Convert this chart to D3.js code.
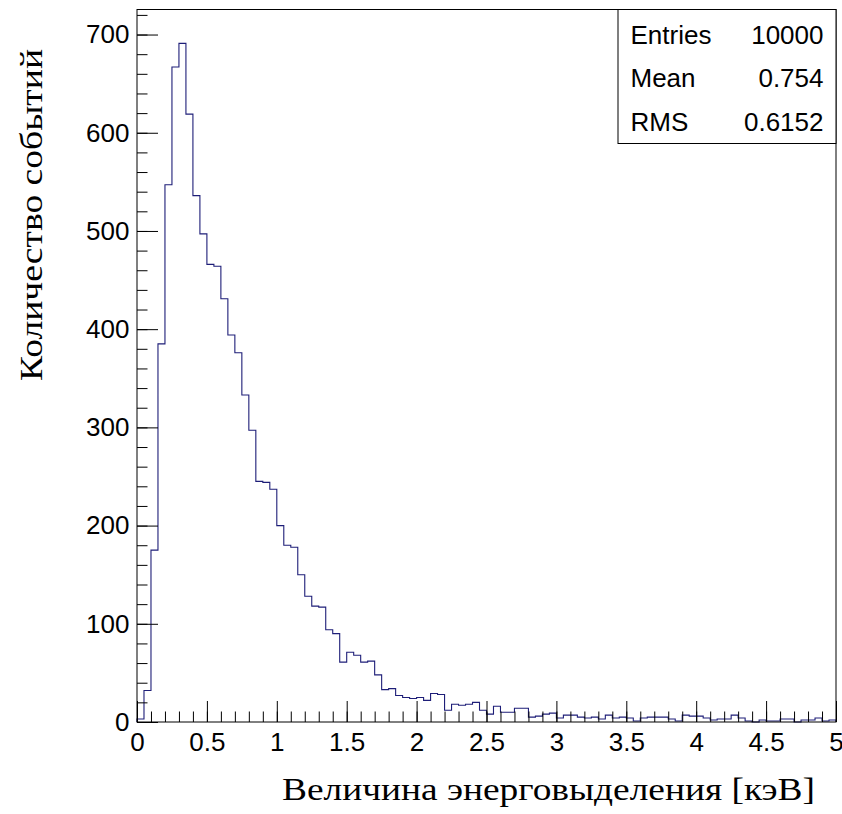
<!DOCTYPE html>
<html>
<head>
<meta charset="utf-8">
<script src="https://cdn.jsdelivr.net/npm/d3@7"></script>
<style>
  body { margin: 0; background: white; }
  .tick text { font-family: "Liberation Sans", Arial, Helvetica, sans-serif; fill: black; }
  .title { font-family: "Liberation Serif", "Times New Roman", serif; fill: black; }
</style>
</head>
<body>
<div id="energy_hist"></div>
<script>
// histogram contents, 100 bins of 0.05 keV from 0 to 5
var binCounts = [
  3, 32, 175, 385, 547, 667, 691, 619, 536, 497,
  466, 464, 431, 394, 376, 333, 297, 245, 244, 237,
  200, 180, 178, 150, 128, 118, 117, 94, 90, 61,
  71, 68, 61, 62, 48, 33, 34, 27, 25, 24,
  25, 22, 29, 28, 12, 18, 17, 18, 20, 12,
  8, 16, 10, 10, 14, 14, 5, 6, 8, 9,
  4, 7, 7, 5, 4, 5, 3, 7, 4, 5,
  4, 1, 4, 5, 5, 5, 3, 1, 7, 6,
  6, 4, 2, 3, 3, 7, 4, 1, 0, 2,
  1, 1, 3, 3, 0, 2, 2, 4, 1, 2
];
var xMin = 0, xMax = 5, yMax = 725.5;
var xMajorTicks = [0, 0.5, 1, 1.5, 2, 2.5, 3, 3.5, 4, 4.5, 5];
var yMajorTicks = [0, 100, 200, 300, 400, 500, 600, 700];
var statLabels = ["Entries", "Mean", "RMS"];
var statValues = ["10000", "0.754", "0.6152"];
var xTitle = "Величина энерговыделения [кэВ]";
var yTitle = "Количество событий";

var W = 842, H = 814;
var margin = {left: 137, right: 6, top: 9.5, bottom: 92};
var width = W - margin.left - margin.right;
var height = H - margin.top - margin.bottom;
var binWidth = (xMax - xMin) / binCounts.length;
var lineColor = "#1e1e78";

var svg = d3.select("#energy_hist").append("svg")
    .attr("width", W)
    .attr("height", H)
  .append("g")
    .attr("transform", "translate(" + margin.left + "," + margin.top + ")");

var x = d3.scaleLinear().domain([xMin, xMax]).range([0, width]);
var y = d3.scaleLinear().domain([0, yMax]).range([height, 0]);

// step outline of the histogram
var steps = [[xMin, 0]];
binCounts.forEach(function(c, i) {
  steps.push([xMin + i * binWidth, c]);
  steps.push([xMin + (i + 1) * binWidth, c]);
});
steps.push([xMax, 0]);

var line = d3.line()
    .x(function(d) { return x(d[0]); })
    .y(function(d) { return y(d[1]); });

svg.append("path")
    .datum(steps)
    .attr("d", line)
    .style("fill", "none")
    .style("stroke", lineColor)
    .style("stroke-width", 1.1);

// minor ticks
svg.append("g")
    .attr("transform", "translate(0," + height + ")")
    .call(d3.axisBottom(x).tickValues(d3.range(0, 51).map(function(d) { return d / 10; }))
        .tickSize(-10.5).tickFormat(""));
svg.append("g")
    .call(d3.axisLeft(y).tickValues(d3.range(0, 721, 20)).tickSize(-10.5).tickFormat(""));

// major ticks + labels
svg.append("g")
    .attr("class", "x-axis")
    .attr("transform", "translate(0," + height + ")")
    .call(d3.axisBottom(x).tickValues(xMajorTicks).tickSize(-21).tickPadding(11)
        .tickFormat(function(d) { return String(d); }));
svg.append("g")
    .attr("class", "y-axis")
    .call(d3.axisLeft(y).tickValues(yMajorTicks).tickSize(-21).tickPadding(7.5)
        .tickFormat(function(d) { return String(d); }));

svg.selectAll(".domain").remove();
svg.selectAll(".tick line").style("stroke", "black").style("stroke-width", 1);
svg.selectAll(".tick text").style("font-size", "26px");

// frame
svg.append("rect")
    .attr("x", 0).attr("y", 0)
    .attr("width", width).attr("height", height)
    .style("fill", "none")
    .style("stroke", "black")
    .style("stroke-width", 1);

// stats box
var boxW = 218, boxH = 134, rowH = 43.5;
var stat = svg.append("g").attr("transform", "translate(" + (width - boxW) + ",0)");
stat.append("rect")
    .attr("width", boxW).attr("height", boxH)
    .style("fill", "white").style("stroke", "black").style("stroke-width", 1);
statLabels.forEach(function(lbl, i) {
  stat.append("text")
      .attr("x", 12.5).attr("y", 34 + i * rowH)
      .text(lbl)
      .style("font-family", "'Liberation Sans', Arial, sans-serif")
      .style("font-size", "26px");
  stat.append("text")
      .attr("x", boxW - 12.5).attr("y", 34 + i * rowH)
      .attr("text-anchor", "end")
      .text(statValues[i])
      .style("font-family", "'Liberation Sans', Arial, sans-serif")
      .style("font-size", "26px");
});

// axis titles
svg.append("text")
    .attr("class", "title")
    .attr("x", 815 - margin.left)
    .attr("y", 800 - margin.top)
    .attr("text-anchor", "end")
    .attr("textLength", 533)
    .attr("lengthAdjust", "spacingAndGlyphs")
    .style("font-size", "31px")
    .text(xTitle);

svg.append("text")
    .attr("class", "title")
    .attr("transform", "translate(" + (42 - margin.left) + "," + (381 - margin.top) + ") rotate(-90)")
    .attr("textLength", 332)
    .attr("lengthAdjust", "spacingAndGlyphs")
    .style("font-size", "31px")
    .text(yTitle);
</script>
</body>
</html>
